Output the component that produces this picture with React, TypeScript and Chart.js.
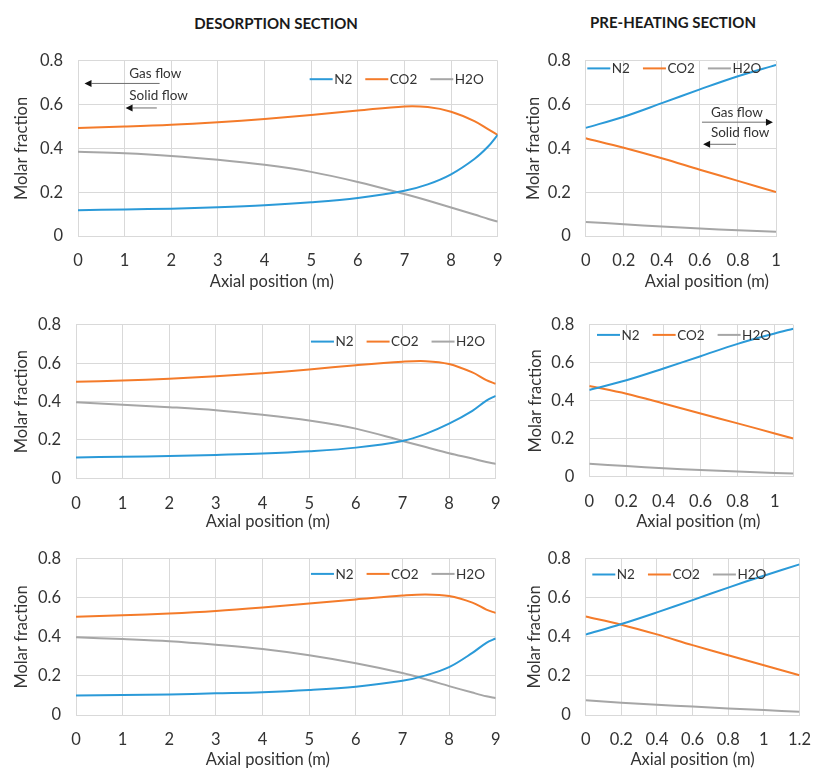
import React, { useEffect, useRef } from 'react';
import { Chart, registerables } from 'chart.js';

Chart.register(...registerables);

// ---------------- DATA ----------------
const SERIES_LABELS = ['N2', 'CO2', 'H2O'];
const Y_TICKS = [0, 0.2, 0.4, 0.6, 0.8];

// Desorption section (axial position, m)
const DES_X = [0, 1, 2, 3, 4, 5, 6, 7, 7.5, 8, 8.5, 8.8, 9];
const DES_X_TICKS = [0, 1, 2, 3, 4, 5, 6, 7, 8, 9];

const DES1_N2 = [0.118, 0.121, 0.125, 0.131, 0.14, 0.154, 0.174, 0.207, 0.236, 0.282, 0.352, 0.41, 0.462];
const DES1_CO2 = [0.494, 0.5, 0.508, 0.52, 0.535, 0.553, 0.573, 0.592, 0.589, 0.568, 0.525, 0.487, 0.462];
const DES1_H2O = [0.385, 0.378, 0.366, 0.348, 0.325, 0.293, 0.247, 0.192, 0.162, 0.13, 0.098, 0.078, 0.066];

const DES2_N2 = [0.109, 0.112, 0.116, 0.122, 0.129, 0.141, 0.16, 0.195, 0.232, 0.285, 0.352, 0.405, 0.43];
const DES2_CO2 = [0.503, 0.51, 0.519, 0.532, 0.548, 0.568, 0.59, 0.608, 0.611, 0.596, 0.552, 0.512, 0.493];
const DES2_H2O = [0.397, 0.384, 0.371, 0.355, 0.331, 0.301, 0.259, 0.195, 0.163, 0.131, 0.103, 0.085, 0.075];

const DES3_N2 = [0.1, 0.102, 0.105, 0.111, 0.117, 0.128, 0.145, 0.175, 0.203, 0.245, 0.318, 0.37, 0.392];
const DES3_CO2 = [0.503, 0.511, 0.52, 0.533, 0.551, 0.572, 0.592, 0.612, 0.618, 0.61, 0.576, 0.54, 0.523];
const DES3_H2O = [0.398, 0.389, 0.378, 0.36, 0.338, 0.306, 0.265, 0.215, 0.183, 0.148, 0.115, 0.096, 0.086];

// Pre-heating section
const PH1_X = [0, 0.2, 0.4, 0.6, 0.8, 1];
const PH1_X_TICKS = [0, 0.2, 0.4, 0.6, 0.8, 1];
const PH1_N2 = [0.494, 0.545, 0.607, 0.67, 0.73, 0.782];
const PH1_CO2 = [0.447, 0.403, 0.355, 0.303, 0.252, 0.201];
const PH1_H2O = [0.064, 0.054, 0.043, 0.034, 0.026, 0.019];

const PH2_X = [0, 0.2, 0.4, 0.6, 0.8, 1, 1.1];
const PH2_X_TICKS = [0, 0.2, 0.4, 0.6, 0.8, 1];
const PH2_N2 = [0.457, 0.508, 0.57, 0.635, 0.7, 0.755, 0.78];
const PH2_CO2 = [0.478, 0.437, 0.386, 0.333, 0.281, 0.228, 0.201];
const PH2_H2O = [0.068, 0.056, 0.045, 0.035, 0.027, 0.02, 0.017];

const PH3_X = [0, 0.2, 0.4, 0.6, 0.8, 1, 1.2];
const PH3_X_TICKS = [0, 0.2, 0.4, 0.6, 0.8, 1, 1.2];
const PH3_N2 = [0.412, 0.466, 0.526, 0.589, 0.653, 0.714, 0.772];
const PH3_CO2 = [0.505, 0.463, 0.413, 0.358, 0.306, 0.255, 0.204];
const PH3_H2O = [0.076, 0.063, 0.053, 0.043, 0.033, 0.025, 0.017];

// Flow annotations (data coordinates)
const DES1_FLOW = [
  { text: 'Gas flow', tx: 1.1, ty: 0.742, from: [1.75, 0.697], to: [0.14, 0.697] },
  { text: 'Solid flow', tx: 1.1, ty: 0.64, from: [1.69, 0.585], to: [1.02, 0.585] },
];
const PH1_FLOW = [
  { text: 'Gas flow', tx: 0.658, ty: 0.563, from: [0.611, 0.52], to: [0.984, 0.52] },
  { text: 'Solid flow', tx: 0.658, ty: 0.472, from: [0.79, 0.419], to: [0.617, 0.419] },
];

// ---------------- STYLE ----------------
const COLORS = ['#2B9AD8', '#F47B2A', '#A6A6A6'];
const GRID = '#D9D9D9';
const TEXT = '#333333';
const FONT = 'Lato, "Open Sans", sans-serif';

type Panel = {
  left: number; top: number; w: number; h: number;
  yAxisW: number; padTop: number; padRight: number; xAxisH: number;
  yTitlePad: number; xTitleDx: number; xTitleDy: number;
  x: number[]; ys: number[][]; xMax: number; xTickLabels: number[];
  legendAlign: 'start' | 'end'; legendDx: number; legendDy: number;
  flow?: { text: string; tx: number; ty: number; from: number[]; to: number[] }[];
};

const PANELS: Panel[] = [
  { left: 0, top: 36, w: 520, h: 264, yAxisW: 78, padTop: 20.7, padRight: 22.3, xAxisH: 64,
    yTitlePad: 11.4, xTitleDx: -16, xTitleDy: 45.7,
    x: DES_X, ys: [DES1_N2, DES1_CO2, DES1_H2O], xMax: 9, xTickLabels: DES_X_TICKS,
    legendAlign: 'end', legendDx: 14, legendDy: 18.3, flow: DES1_FLOW },
  { left: 520, top: 36, w: 306, h: 264, yAxisW: 65.7, padTop: 20.5, padRight: 50, xAxisH: 64,
    yTitlePad: 3.9, xTitleDx: 26, xTitleDy: 45.7,
    x: PH1_X, ys: [PH1_N2, PH1_CO2, PH1_H2O], xMax: 1, xTickLabels: PH1_X_TICKS,
    legendAlign: 'start', legendDx: 1.6, legendDy: 7.5, flow: PH1_FLOW },
  { left: 0, top: 300, w: 520, h: 234, yAxisW: 76, padTop: 11, padRight: 24.3, xAxisH: 55.7,
    yTitlePad: 11.4, xTitleDx: -18, xTitleDy: 43,
    x: DES_X, ys: [DES2_N2, DES2_CO2, DES2_H2O], xMax: 9, xTickLabels: DES_X_TICKS,
    legendAlign: 'end', legendDx: 10.7, legendDy: 16.7 },
  { left: 520, top: 300, w: 306, h: 234, yAxisW: 69.3, padTop: 15, padRight: 32.7, xAxisH: 57.3,
    yTitlePad: 5.4, xTitleDx: 7, xTitleDy: 45,
    x: PH2_X, ys: [PH2_N2, PH2_CO2, PH2_H2O], xMax: 1.1, xTickLabels: PH2_X_TICKS,
    legendAlign: 'start', legendDx: 7.7, legendDy: 10 },
  { left: 0, top: 534, w: 520, h: 235, yAxisW: 76, padTop: 21.8, padRight: 24.3, xAxisH: 54,
    yTitlePad: 11.4, xTitleDx: -18, xTitleDy: 45,
    x: DES_X, ys: [DES3_N2, DES3_CO2, DES3_H2O], xMax: 9, xTickLabels: DES_X_TICKS,
    legendAlign: 'end', legendDx: 10.7, legendDy: 15 },
  { left: 520, top: 534, w: 306, h: 235, yAxisW: 65.7, padTop: 23.7, padRight: 12, xAxisH: 54,
    yTitlePad: 4.4, xTitleDx: 0, xTitleDy: 45,
    x: PH3_X, ys: [PH3_N2, PH3_CO2, PH3_H2O], xMax: 1.2, xTickLabels: PH3_X_TICKS,
    legendAlign: 'start', legendDx: 6.6, legendDy: 15.6 },
];

function overlayPlugin(p: Panel) {
  return {
    id: 'overlay',
    afterDraw(chart: any) {
      const { ctx, chartArea: ca, scales } = chart;
      ctx.save();
      // X axis title
      ctx.font = `16.5px ${FONT}`;
      ctx.fillStyle = TEXT;
      ctx.textAlign = 'center';
      ctx.textBaseline = 'middle';
      ctx.fillText('Axial position (m)', (ca.left + ca.right) / 2 + p.xTitleDx, ca.bottom + p.xTitleDy);

      // Legend
      ctx.font = `13.5px ${FONT}`;
      const lineLen = 23, gapTxt = 1.5, gapItem = 13;
      const widths = SERIES_LABELS.map((l) => ctx.measureText(l).width);
      const total = widths.reduce((a, b) => a + b, 0) + SERIES_LABELS.length * (lineLen + gapTxt) + gapItem * (SERIES_LABELS.length - 1);
      let x = p.legendAlign === 'end' ? ca.right - p.legendDx - total : ca.left + p.legendDx;
      const y = ca.top + p.legendDy;
      ctx.textAlign = 'left';
      chart.data.datasets.forEach((ds: any, i: number) => {
        ctx.strokeStyle = ds.borderColor;
        ctx.lineWidth = 2;
        ctx.beginPath();
        ctx.moveTo(x, y);
        ctx.lineTo(x + lineLen, y);
        ctx.stroke();
        x += lineLen + gapTxt;
        ctx.fillStyle = TEXT;
        ctx.fillText(ds.label, x, y + 0.5);
        x += widths[i] + gapItem;
      });

      // Flow annotations
      if (p.flow) {
        const sx = scales.x, sy = scales.y;
        ctx.font = `13.5px ${FONT}`;
        p.flow.forEach((f) => {
          ctx.fillStyle = TEXT;
          ctx.textAlign = 'left';
          ctx.fillText(f.text, sx.getPixelForValue(f.tx), sy.getPixelForValue(f.ty));
          const x1 = sx.getPixelForValue(f.from[0]), y1 = sy.getPixelForValue(f.from[1]);
          const x2 = sx.getPixelForValue(f.to[0]), y2 = sy.getPixelForValue(f.to[1]);
          const dir = Math.sign(x2 - x1);
          const headL = 7, headW = 3.5;
          ctx.strokeStyle = '#6E6E6E';
          ctx.lineWidth = 1;
          ctx.beginPath();
          ctx.moveTo(x1, y1);
          ctx.lineTo(x2 - dir * headL, y2);
          ctx.stroke();
          ctx.fillStyle = '#111';
          ctx.beginPath();
          ctx.moveTo(x2, y2);
          ctx.lineTo(x2 - dir * headL, y2 - headW);
          ctx.lineTo(x2 - dir * headL, y2 + headW);
          ctx.closePath();
          ctx.fill();
        });
      }
      ctx.restore();
    },
  };
}

function fmt(v: number) {
  return String(Number(v.toFixed(2)));
}

function PanelChart({ p }: { p: Panel }) {
  const ref = useRef<HTMLCanvasElement | null>(null);
  useEffect(() => {
    if (!ref.current) return;
    const datasets = SERIES_LABELS.map((label, i) => ({
      label,
      data: p.x.map((xv, j) => ({ x: xv, y: p.ys[i][j] })),
      borderColor: COLORS[i],
      backgroundColor: COLORS[i],
      borderWidth: 2,
      pointRadius: 0,
      fill: false,
      tension: 0.35,
    }));
    const xTicks = [...p.xTickLabels];
    if (!xTicks.includes(p.xMax)) xTicks.push(p.xMax);
    const tickFont = { family: FONT, size: 16.5 };
    const chart = new Chart(ref.current, {
      type: 'line',
      data: { datasets },
      options: {
        responsive: false,
        animation: false,
        events: [],
        layout: { padding: { left: 0, top: p.padTop, right: p.padRight, bottom: 0 } },
        plugins: { legend: { display: false }, tooltip: { enabled: false } },
        scales: {
          x: {
            type: 'linear',
            min: 0,
            max: p.xMax,
            afterBuildTicks: (s: any) => { s.ticks = xTicks.map((v) => ({ value: v })); },
            afterFit: (s: any) => { s.height = p.xAxisH; },
            ticks: {
              autoSkip: false,
              maxRotation: 0,
              padding: 15,
              color: TEXT,
              font: tickFont,
              callback: (v: any) => (p.xTickLabels.includes(v) ? fmt(v) : ''),
            },
            grid: { color: GRID, drawTicks: false, lineWidth: 1 },
            border: { color: GRID },
          },
          y: {
            type: 'linear',
            min: 0,
            max: 0.8,
            afterBuildTicks: (s: any) => { s.ticks = Y_TICKS.map((v) => ({ value: v })); },
            afterFit: (s: any) => { s.width = p.yAxisW; },
            ticks: { padding: 15, color: TEXT, font: tickFont, callback: (v: any) => fmt(v) },
            grid: { color: GRID, drawTicks: false, lineWidth: 1 },
            border: { color: GRID },
            title: {
              display: true,
              text: 'Molar fraction',
              color: TEXT,
              font: { family: FONT, size: 16.5 },
              padding: { top: p.yTitlePad, bottom: 0 },
            },
          },
        },
      },
      plugins: [overlayPlugin(p)],
    } as any);
    return () => chart.destroy();
  }, [p]);
  return (
    <canvas
      ref={ref}
      width={p.w}
      height={p.h}
      style={{ position: 'absolute', left: p.left, top: p.top, width: p.w, height: p.h }}
    />
  );
}

export default function App() {
  const titleStyle: React.CSSProperties = {
    position: 'absolute',
    width: 260,
    textAlign: 'center',
    fontFamily: FONT,
    fontWeight: 700,
    fontSize: 15,
    lineHeight: '18px',
    color: '#1a1a1a',
  };
  return (
    <div style={{ position: 'absolute', left: 0, top: 0, width: 826, height: 769, background: '#fff', overflow: 'hidden' }}>
      <div style={{ ...titleStyle, left: 276 - 130, top: 14 }}>DESORPTION SECTION</div>
      <div style={{ ...titleStyle, left: 673 - 130, top: 13 }}>PRE-HEATING SECTION</div>
      {PANELS.map((p, i) => (
        <PanelChart key={i} p={p} />
      ))}
    </div>
  );
}
